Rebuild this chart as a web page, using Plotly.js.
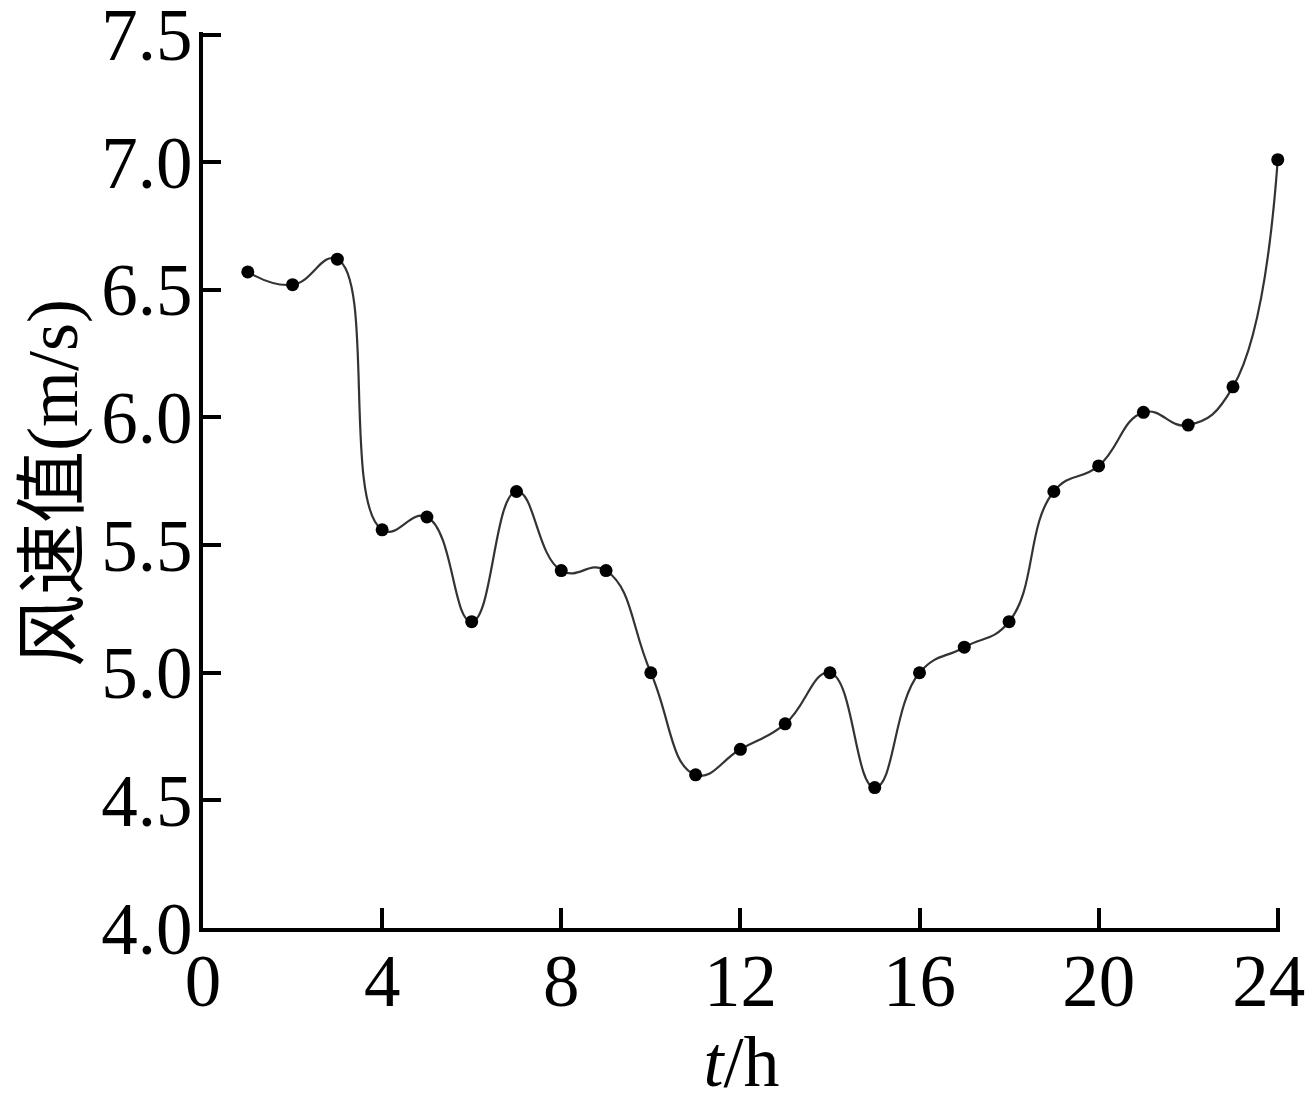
<!DOCTYPE html>
<html>
<head>
<meta charset="utf-8">
<script src="https://cdn.plot.ly/plotly-3.0.1.min.js"></script>
<style>html,body{margin:0;padding:0;background:#fff;}#chart{width:1307px;height:1107px;}</style>
</head>
<body>
<div id="chart"></div>
<script>
const hours = [1,2,3,4,5,6,7,8,9,10,11,12,13,14,15,16,17,18,19,20,21,22,23,24];
const windSpeed = [6.57,6.52,6.62,5.56,5.61,5.20,5.71,5.40,5.40,5.00,4.60,4.70,4.80,5.00,4.55,5.00,5.10,5.20,5.71,5.81,6.02,5.97,6.12,7.01];
const xTicks = [0,4,8,12,16,20,24];
const xTickText = ['0','4','8','12','16','20','24\u00a0'];
const yTicks = [4.0,4.5,5.0,5.5,6.0,6.5,7.0,7.5];
const yTickText = ['4.0','4.5','5.0','5.5','6.0','6.5','7.0','7.5'];
const yTitle = '<span style="font-family:\'Noto Sans CJK SC\'">风速值</span>(m/s)';
const xTitle = '<i>t</i>/h';

const serif = '"Liberation Serif", "Times New Roman", serif';

Plotly.newPlot('chart', [{
  x: hours,
  y: windSpeed,
  type: 'scatter',
  mode: 'lines+markers',
  line: {shape: 'spline', smoothing: 1.3, color: '#333', width: 2.2},
  marker: {size: 13, color: '#000'},
  cliponaxis: false
}], {
  width: 1307, height: 1107,
  margin: {l: 203, r: 27, t: 32, b: 179},
  paper_bgcolor: '#fff', plot_bgcolor: '#fff',
  showlegend: false,
  font: {family: serif, color: '#000'},
  xaxis: {
    range: [0, 24.05], tickvals: xTicks, ticktext: xTickText,
    showgrid: false, zeroline: false,
    showline: true, linecolor: '#000', linewidth: 4,
    ticks: 'inside', ticklen: 20, tickwidth: 4, tickcolor: '#000',
    tickfont: {family: serif, size: 73, color: '#000'},
    ticklabelstandoff: -14, ticklabeloverflow: 'allow',
    title: {text: xTitle, font: {family: serif, size: 72, color: '#000'}, standoff: 10}
  },
  yaxis: {
    range: [4.0, 7.51], tickvals: yTicks, ticktext: yTickText,
    showgrid: false, zeroline: false,
    showline: true, linecolor: '#000', linewidth: 4,
    ticks: 'inside', ticklen: 18, tickwidth: 4, tickcolor: '#000',
    tickfont: {family: serif, size: 73, color: '#000'},
    ticklabelstandoff: -8, ticklabeloverflow: 'allow'
  },
  annotations: [{
    text: yTitle, xref: 'paper', yref: 'paper', x: 0, y: 0.5,
    xanchor: 'center', yanchor: 'middle', xshift: -158, yshift: -3,
    textangle: -90, showarrow: false, borderpad: 0,
    font: {family: serif, size: 72, color: '#000'}
  }]
}, {staticPlot: true});
</script>
</body>
</html>
